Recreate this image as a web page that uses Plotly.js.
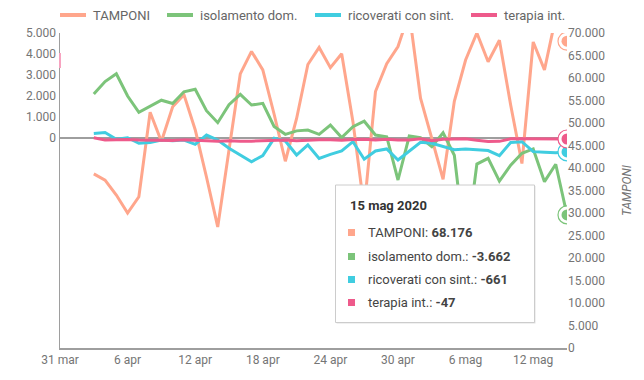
<!DOCTYPE html>
<html><head><meta charset="utf-8">
<script src="https://cdn.plot.ly/plotly-3.0.1.min.js"></script>
<style>html,body{margin:0;padding:0;background:#fff}#chart{width:644px;height:380px}</style>
</head><body><div id="chart"></div>
<script>
const startDate = '2020-04-03';
const tamponi = [38700,37300,34000,30000,33600,52400,45900,53600,56300,48500,38000,26900,44000,60900,65900,61800,52000,41500,51000,63000,66800,62300,65400,50300,31000,57000,63200,67000,74500,55500,46600,37500,54800,64000,70000,63600,68400,54000,41000,68000,61800,73500,68176];
const isolamento = [2090,2690,3060,2000,1220,1520,1800,1640,2200,2320,1300,730,1590,2080,1570,1650,550,175,340,380,175,620,20,540,800,140,60,-2000,95,15,-410,250,-820,-5400,-1240,-970,-2050,-1290,-730,-520,-2080,-1250,-3662];
const ricoverati = [220,260,-60,15,-250,-220,-100,-130,-100,-300,140,-100,-490,-810,-1130,-840,-15,-140,-810,-330,-970,-780,-620,-175,-1010,-620,-520,-1050,-620,-205,-250,-420,-560,-520,-570,-600,-840,-210,-175,-650,-680,-700,-661];
const terapia = [15,-100,-80,-70,-100,-100,-90,-120,-80,-110,-120,-150,-130,-160,-150,-140,-100,-100,-130,-100,-80,-80,-110,-70,-60,-90,-60,-100,-100,-40,-130,-60,-60,-40,-110,-170,-160,-40,-40,-40,-40,-50,-47];
const seriesNames = ['TAMPONI','isolamento dom.','ricoverati con sint.','terapia int.'];
const colors = ['#FFA68C','#7CC47A','#40CDE0','#EE5A8B'];
const xTickVals = ['2020-03-31','2020-04-06','2020-04-12','2020-04-18','2020-04-24','2020-04-30','2020-05-06','2020-05-12'];
const xTickText = ['31 mar','6 apr','12 apr','18 apr','24 apr','30 apr','6 mag','12 mag'];
const leftTicks = [0,1000,2000,3000,4000,5000];
const rightTicks = [0,5000,10000,15000,20000,25000,30000,35000,40000,45000,50000,55000,60000,65000,70000];
const tooltipTitle = '15 mag 2020';

const dates = [];
{
  const d0 = new Date(startDate + 'T00:00:00Z');
  for (let i = 0; i < tamponi.length; i++) {
    const d = new Date(d0.getTime() + i * 86400000);
    dates.push(d.toISOString().slice(0,10));
  }
}
function fmt(v){const s=Math.abs(v).toString().replace(/\B(?=(\d{3})+(?!\d))/g,'.');return (v<0?'-':'')+s;}

const allSeries = [tamponi, isolamento, ricoverati, terapia];
const axes = ['y','y2','y2','y2'];
const traces = [];
allSeries.forEach((s,k)=>{
  traces.push({x:dates,y:s,type:'scatter',mode:'lines',name:seriesNames[k],yaxis:axes[k],showlegend:false,
    line:{color:colors[k],width:3},hoverinfo:'skip'});
});
const last = dates.length-1;
allSeries.forEach((s,k)=>{
  traces.push({x:[dates[last]],y:[s[last]],type:'scatter',mode:'markers',yaxis:axes[k],showlegend:false,hoverinfo:'skip',
    marker:{size:18,color:'rgba(255,255,255,1)',line:{color:colors[k],width:1.2}}});
  traces.push({x:[dates[last]],y:[s[last]],type:'scatter',mode:'markers',yaxis:axes[k],showlegend:false,hoverinfo:'skip',
    marker:{size:11,color:colors[k],line:{width:0}}});
});

const W=507,H=315;
const px=(x)=>(x-60)/W, py=(y)=>(348-y)/H;
const shapes=[
  {type:'line',xref:'paper',yref:'paper',x0:0,x1:0,y0:py(53),y1:py(68),line:{color:'#F7A3C0',width:2}},
  {type:'rect',xref:'paper',yref:'paper',x0:px(336.5),x1:px(535.5),y0:py(323.5),y1:py(186),fillcolor:'rgba(0,0,0,0.12)',line:{width:0},layer:'above'},
  {type:'rect',xref:'paper',yref:'paper',x0:px(335.5),x1:px(534.5),y0:py(322.5),y1:py(185),fillcolor:'#ffffff',line:{color:'#cccccc',width:1},layer:'above'}
];
const annotations=[{xref:'paper',yref:'paper',x:px(348),y:py(205),xanchor:'left',yanchor:'middle',showarrow:false,
  text:'<b>'+tooltipTitle+'</b>',font:{family:'Roboto',size:13,color:'#333'}}];
const rowY=[232.5,256.5,279.5,302.5];
allSeries.forEach((s,k)=>{
  shapes.push({type:'rect',xref:'paper',yref:'paper',x0:px(348),x1:px(355),y0:py(rowY[k]+3.5),y1:py(rowY[k]-3.5),fillcolor:colors[k],line:{width:0},layer:'above'});
  annotations.push({xref:'paper',yref:'paper',x:px(366),y:py(rowY[k]),xanchor:'left',yanchor:'middle',showarrow:false,
    text:seriesNames[k]+': <b>'+fmt(s[last])+'</b>',font:{family:'Roboto',size:13,color:'#444'}});
});
const legendStarts=[60,167,315,471];
seriesNames.forEach((n,k)=>{
  shapes.push({type:'line',xref:'paper',yref:'paper',x0:px(legendStarts[k]),x1:px(legendStarts[k]+26),y0:py(15),y1:py(15),line:{color:colors[k],width:4}});
  annotations.push({xref:'paper',yref:'paper',x:px(legendStarts[k]+31),y:py(15.5),xanchor:'left',yanchor:'middle',showarrow:false,
    text:n,font:{family:'Roboto',size:13,color:'#666'}});
});

const tickFont={family:'Roboto',size:12,color:'#757575'};
const layout={
  width:644,height:380,margin:{l:60,r:77,t:33,b:32},
  paper_bgcolor:'#fff',plot_bgcolor:'#fff',separators:',.',
  font:{family:'Roboto',size:12,color:'#757575'},
  showlegend:false,
  xaxis:{type:'date',range:['2020-03-31','2020-05-15'],tickvals:xTickVals,ticktext:xTickText,tickfont:tickFont,
    showgrid:false,zeroline:false,showline:true,linecolor:'#9e9e9e',linewidth:1.5,ticks:'',ticklen:0},
  yaxis:{side:'right',range:[0,70000],tickvals:rightTicks,tickformat:',d',tickfont:tickFont,showgrid:false,zeroline:false,showline:false,ticks:'',
    title:{text:'TAMPONI',font:{family:'Roboto',size:12,color:'#757575',style:'italic'},standoff:18}},
  yaxis2:{side:'left',overlaying:'y',range:[-10000,5000],tickvals:leftTicks,tickformat:',d',tickfont:tickFont,showgrid:false,
    zeroline:true,zerolinecolor:'#9e9e9e',zerolinewidth:1.5,showline:true,linecolor:'#9e9e9e',linewidth:1.5,ticks:''},
  shapes:shapes,annotations:annotations
};
Plotly.newPlot('chart',traces,layout,{displayModeBar:false,staticPlot:true});
</script></body></html>
